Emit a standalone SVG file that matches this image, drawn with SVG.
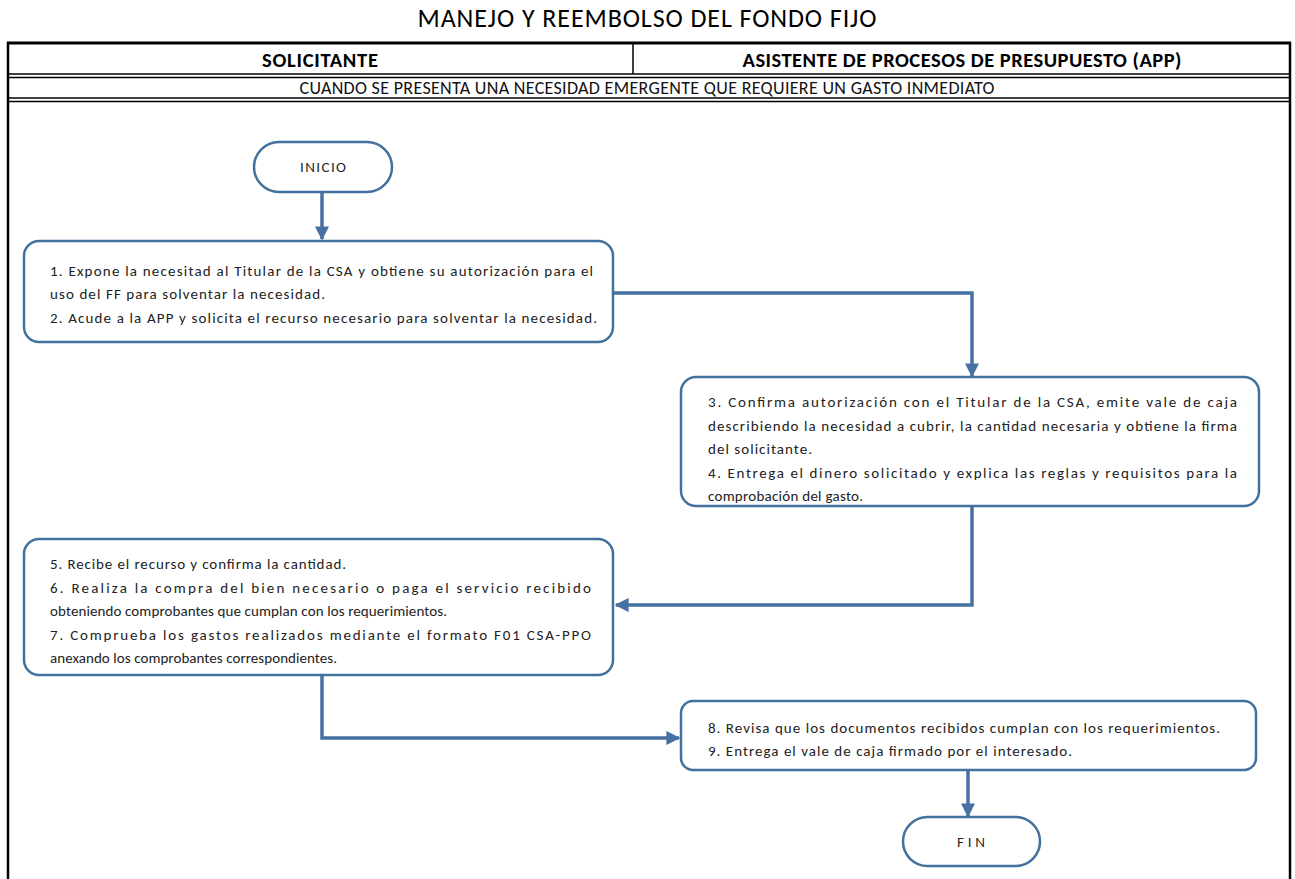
<svg xmlns="http://www.w3.org/2000/svg" width="1295" height="879" viewBox="0 0 1295 879">
<style>
.t{font-family:Carlito,Lato,"Liberation Sans",sans-serif;font-size:15px;fill:#222}
.rw{font-family:Carlito,Lato,"Liberation Sans",sans-serif;font-size:18px;fill:#111}
.hd{font-family:Carlito,Lato,"Liberation Sans",sans-serif;font-size:20.5px;font-weight:bold;fill:#000}
.ti{font-family:Carlito,Lato,"Liberation Sans",sans-serif;font-size:26px;fill:#000}
.box{fill:#fff;stroke:#41719C;stroke-width:2.5}
.con{fill:none;stroke:#4671A2;stroke-width:3.5}
.ln{stroke:#000;fill:none}
</style>
<defs>
<marker id="ah" viewBox="0 0 10 10" refX="9" refY="5" markerWidth="4" markerHeight="4" markerUnits="strokeWidth" orient="auto">
<path d="M0,0 L10,5 L0,10 z" fill="#4671A2"/>
</marker>
</defs>
<rect width="1295" height="879" fill="#fff"/>
<g id="table">
<text class="ti" x="647" y="27" text-anchor="middle" textLength="459" lengthAdjust="spacing">MANEJO Y REEMBOLSO DEL FONDO FIJO</text>
<line class="ln" x1="7" y1="43" x2="1291" y2="43" stroke-width="3"/>
<line class="ln" x1="8" y1="42" x2="8" y2="879" stroke-width="2.5"/>
<line class="ln" x1="1290" y1="42" x2="1290" y2="879" stroke-width="2.5"/>
<line class="ln" x1="633" y1="43" x2="633" y2="74" stroke-width="1.5"/>
<line class="ln" x1="8" y1="74" x2="1290" y2="74" stroke-width="1.5"/>
<line class="ln" x1="8" y1="77.5" x2="1290" y2="77.5" stroke-width="1.5"/>
<line class="ln" x1="8" y1="98" x2="1290" y2="98" stroke-width="1.5"/>
<line class="ln" x1="8" y1="101.5" x2="1290" y2="101.5" stroke-width="1.5"/>
<text class="hd" x="320" y="67" text-anchor="middle" textLength="116" lengthAdjust="spacing">SOLICITANTE</text>
<text class="hd" x="962" y="67" text-anchor="middle" textLength="439" lengthAdjust="spacing">ASISTENTE DE PROCESOS DE PRESUPUESTO (APP)</text>
<text class="rw" x="647" y="94" text-anchor="middle" textLength="695" lengthAdjust="spacing">CUANDO SE PRESENTA UNA NECESIDAD EMERGENTE QUE REQUIERE UN GASTO INMEDIATO</text>
</g>
<g id="connectors">
<path class="con" d="M322,192 V239" marker-end="url(#ah)"/>
<path class="con" d="M613,293 H972 V376" marker-end="url(#ah)"/>
<path class="con" d="M972,506 V605 H616" marker-end="url(#ah)"/>
<path class="con" d="M322,675 V738 H679" marker-end="url(#ah)"/>
<path class="con" d="M968,770 V816" marker-end="url(#ah)"/>
</g>
<g id="inicio">
<rect class="box" x="254" y="142" width="138" height="50" rx="25"/>
<text class="t" x="323" y="172" text-anchor="middle" textLength="46" lengthAdjust="spacing">INICIO</text>
</g>
<g id="n1">
<rect class="box" x="24" y="241" width="589" height="101" rx="15"/>
<text class="t" x="50" y="275.5" textLength="543" lengthAdjust="spacing">1. Expone la necesitad al Titular de la CSA y obtiene su autorización para el</text>
<text class="t" x="50" y="298.5" textLength="275" lengthAdjust="spacing">uso del FF para solventar la necesidad.</text>
<text class="t" x="50" y="322.5" textLength="547" lengthAdjust="spacing">2. Acude a la APP y solicita el recurso necesario para solventar la necesidad.</text>
</g>
<g id="n3">
<rect class="box" x="681" y="377" width="578" height="129" rx="15"/>
<text class="t" x="708" y="406.5" textLength="529" lengthAdjust="spacing">3. Confirma autorización con el Titular de la CSA, emite vale de caja</text>
<text class="t" x="708" y="430.5" textLength="529" lengthAdjust="spacing">describiendo la necesidad a cubrir, la cantidad necesaria y obtiene la firma</text>
<text class="t" x="708" y="453.5" textLength="104" lengthAdjust="spacing">del solicitante.</text>
<text class="t" x="708" y="477.5" textLength="529" lengthAdjust="spacing">4. Entrega el dinero solicitado y explica las reglas y requisitos para la</text>
<text class="t" x="708" y="500.5" textLength="155" lengthAdjust="spacing">comprobación del gasto.</text>
</g>
<g id="n5">
<rect class="box" x="24" y="539" width="589" height="136" rx="15"/>
<text class="t" x="50" y="568.5" textLength="296" lengthAdjust="spacing">5. Recibe el recurso y confirma la cantidad.</text>
<text class="t" x="50" y="592.5" textLength="541" lengthAdjust="spacing">6. Realiza la compra del bien necesario o paga el servicio recibido</text>
<text class="t" x="50" y="615.5" textLength="397" lengthAdjust="spacing">obteniendo comprobantes que cumplan con los requerimientos.</text>
<text class="t" x="50" y="639.5" textLength="541" lengthAdjust="spacing">7. Comprueba los gastos realizados mediante el formato F01 CSA-PPO</text>
<text class="t" x="50" y="662.5" textLength="287" lengthAdjust="spacing">anexando los comprobantes correspondientes.</text>
</g>
<g id="n8">
<rect class="box" x="681" y="701" width="575" height="69" rx="12"/>
<text class="t" x="708" y="732.5" textLength="512" lengthAdjust="spacing">8. Revisa que los documentos recibidos cumplan con los requerimientos.</text>
<text class="t" x="708" y="755.5" textLength="364" lengthAdjust="spacing">9. Entrega el vale de caja firmado por el interesado.</text>
</g>
<g id="fin">
<rect class="box" x="903" y="817" width="137" height="49" rx="24.5"/>
<text class="t" x="971" y="846.5" text-anchor="middle" textLength="28" lengthAdjust="spacing">FIN</text>
</g>
</svg>
